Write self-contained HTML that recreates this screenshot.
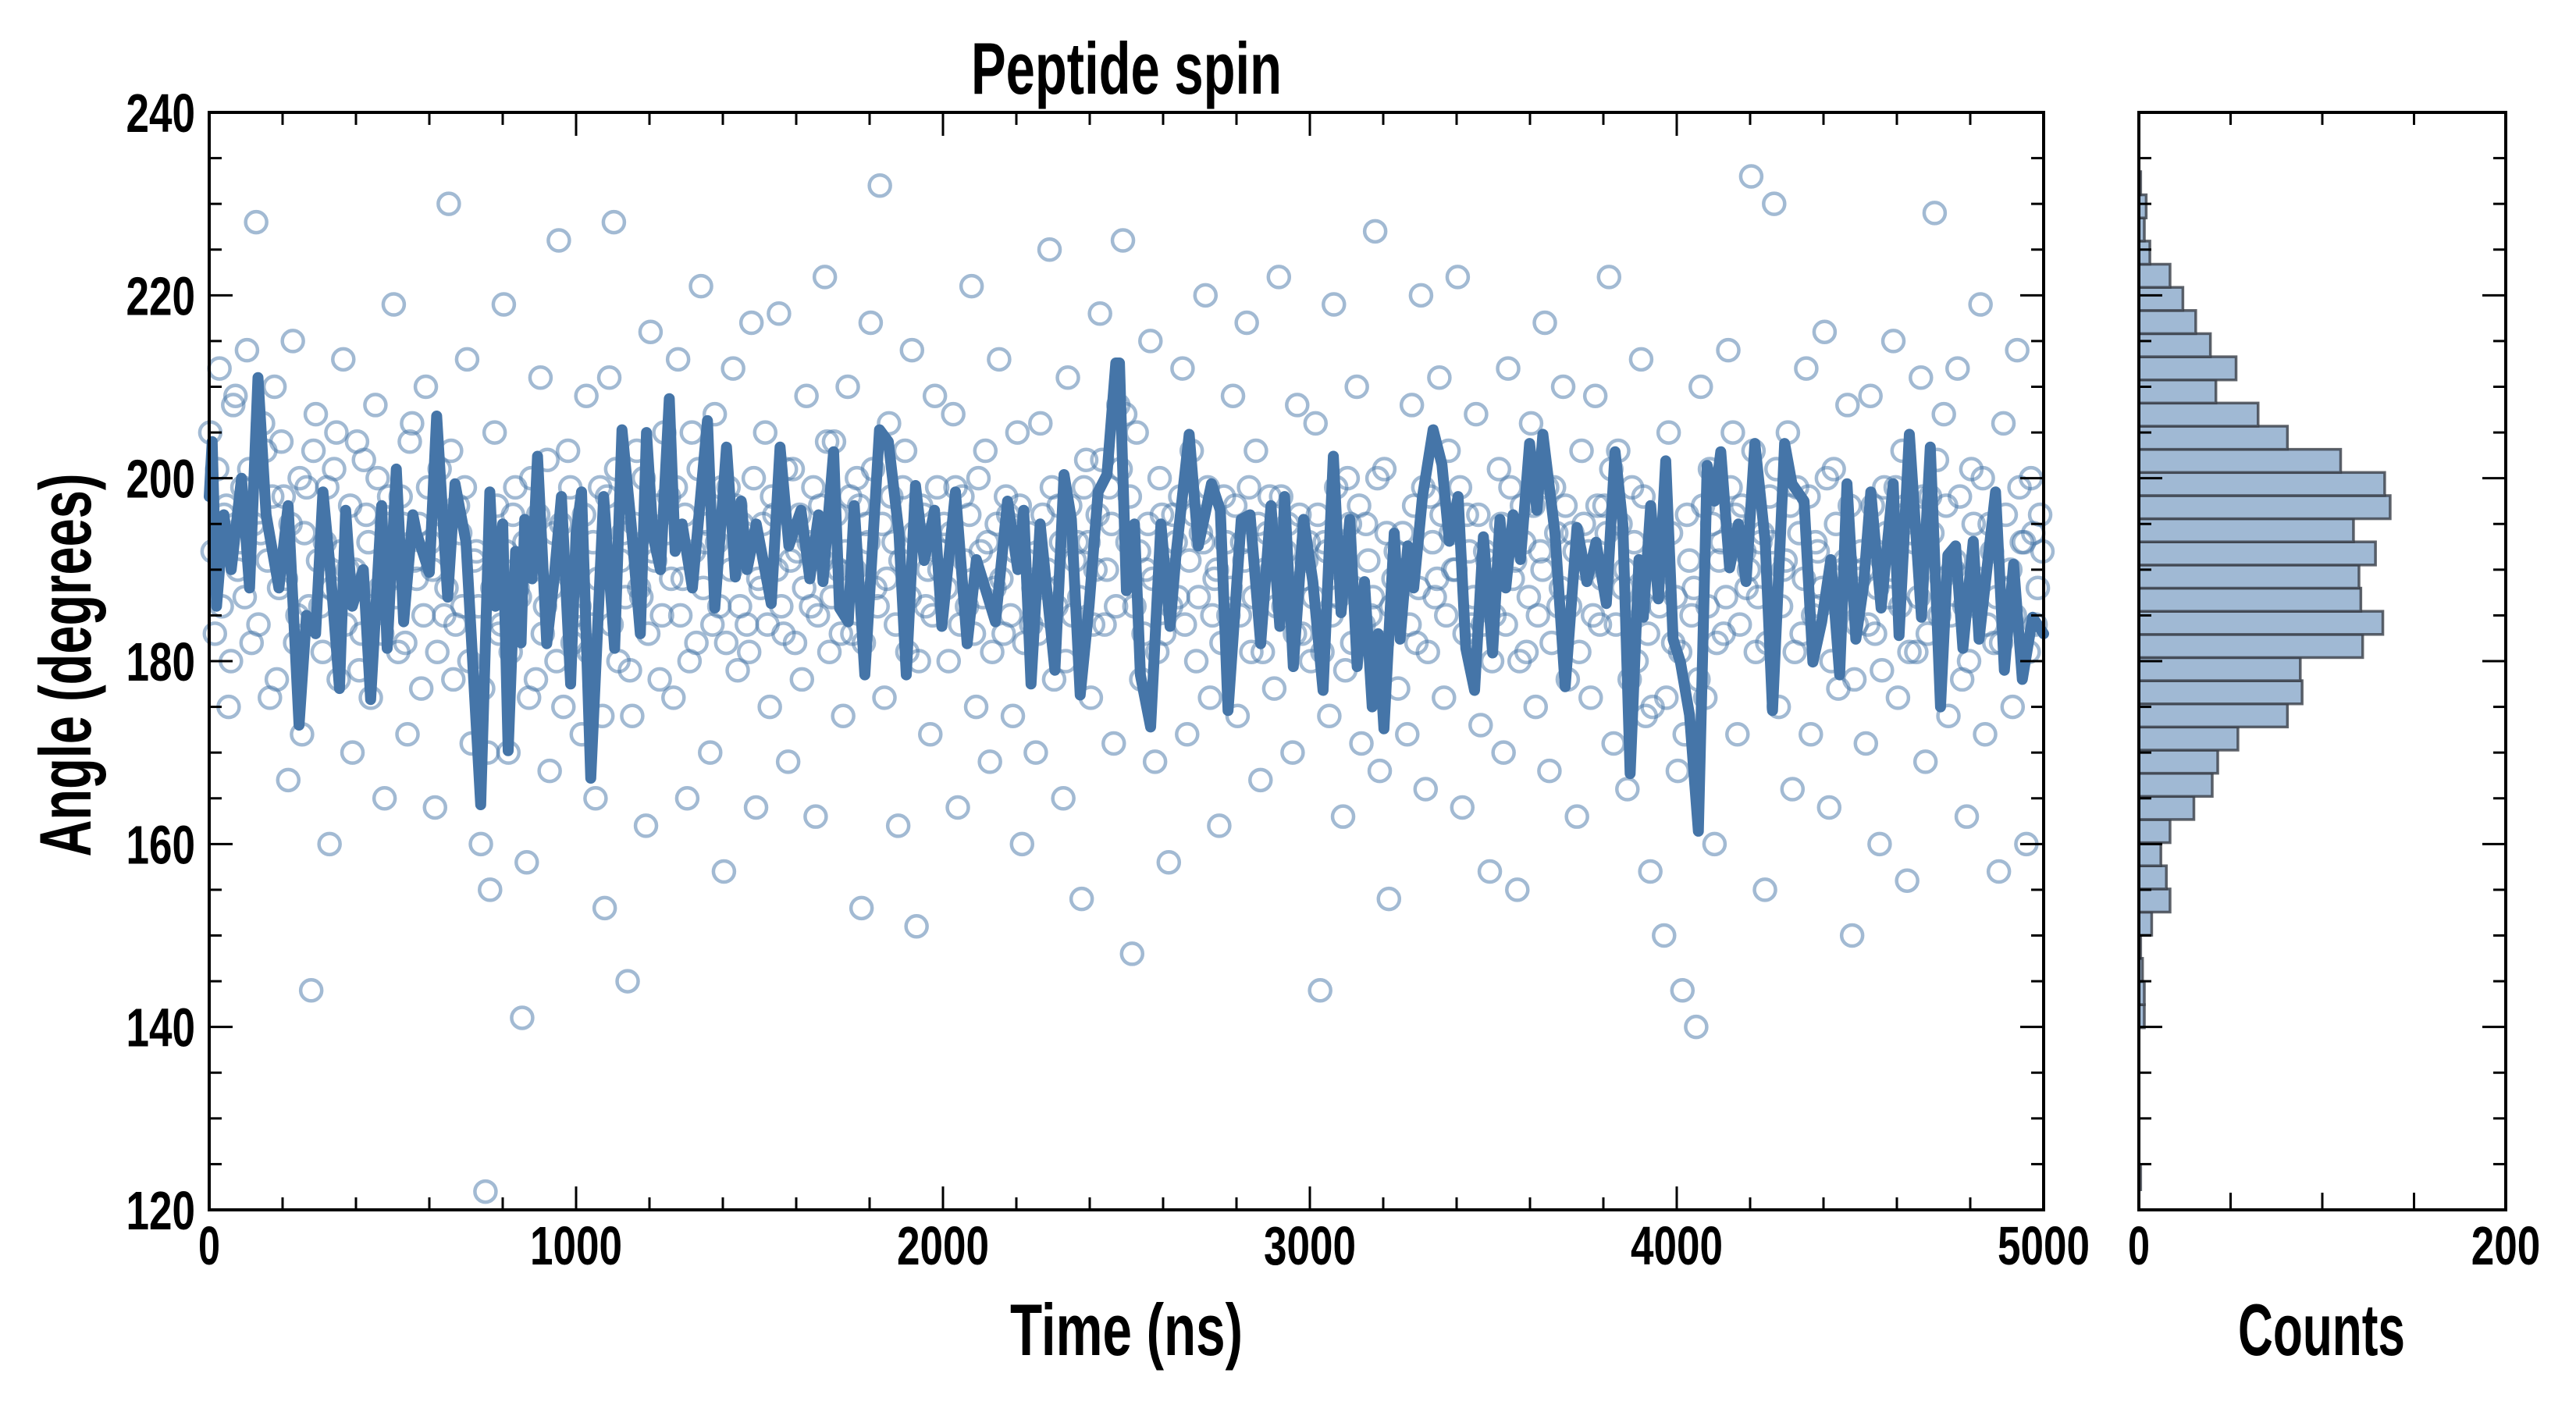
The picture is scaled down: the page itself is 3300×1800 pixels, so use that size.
<!DOCTYPE html>
<html><head><meta charset="utf-8"><title>Peptide spin</title>
<style>
html,body{margin:0;padding:0;background:#fff;}
svg{display:block;}
text{font-family:"Liberation Sans Narrow","Liberation Sans",sans-serif;font-weight:bold;fill:#000;}
</style></head>
<body>
<svg id="chart" width="3300" height="1800" viewBox="0 0 3300 1800" xmlns="http://www.w3.org/2000/svg">
<rect x="0" y="0" width="3300" height="1800" fill="#fff"/>
<g id="main-plot"></g>
<g id="hist-plot"></g>
<text x="1443" y="120" font-size="94" text-anchor="middle" textLength="398" lengthAdjust="spacingAndGlyphs">Peptide spin</text>
<text x="1443" y="1736" font-size="94" text-anchor="middle" textLength="298" lengthAdjust="spacingAndGlyphs">Time (ns)</text>
<text x="2974" y="1736" font-size="94" text-anchor="middle" textLength="214" lengthAdjust="spacingAndGlyphs">Counts</text>
<text x="0" y="0" font-size="94" text-anchor="middle" textLength="491" lengthAdjust="spacingAndGlyphs" transform="translate(116,852) rotate(-90)">Angle (degrees)</text>
</svg>
<script>
// ---- data ----
const scatterValues = [
205,183,212,196,175,208,190,199,214,182,228,194,203,176,210,188,198,167,215,185,
172,199,144,207,186,193,160,201,178,213,190,170,204,183,196,176,208,188,165,198,
219,181,195,172,206,189,177,210,193,164,201,185,230,178,197,186,213,171,192,160,
122,155,205,183,219,170,196,188,141,158,200,178,211,186,168,194,226,175,203,182,
190,172,209,184,165,199,153,211,228,180,194,145,174,203,187,162,216,191,178,205,
198,176,213,189,165,205,182,221,193,170,207,186,157,199,212,179,195,184,217,164,
188,205,175,196,218,183,169,201,192,178,209,186,163,197,222,181,204,190,174,210,
183,200,153,195,217,188,232,176,206,193,162,199,181,214,151,197,186,172,209,190,
195,180,207,164,198,186,221,175,192,203,169,188,213,183,196,174,205,160,191,184,
170,206,188,225,178,197,165,211,185,193,154,202,176,190,218,184,199,171,208,226,
193,148,205,178,190,215,169,200,183,158,196,187,212,172,203,180,194,220,176,189,
162,198,185,209,174,193,217,181,203,167,190,198,177,222,186,195,170,208,183,191,
180,206,144,193,174,219,187,163,200,182,210,171,195,185,227,168,201,154,189,177,
194,172,208,182,220,166,198,187,211,176,203,190,222,164,196,184,207,173,192,157,
185,201,170,212,189,155,197,181,206,175,192,217,168,199,186,210,178,194,163,203,
190,176,209,184,197,222,171,203,188,166,199,180,213,174,157,193,186,150,205,182,
168,144,196,185,140,210,176,201,160,191,183,214,205,172,197,188,233,181,193,155,
198,230,175,190,205,166,199,183,212,172,193,186,216,164,201,177,190,208,150,184,
192,171,209,183,160,199,187,215,176,203,156,194,181,211,169,198,229,185,207,174,
190,212,178,163,201,186,219,172,195,182,157,206,188,175,214,193,160,200,184,196];
const scatterValues2 = [
192,201,186,197,180,209,193,187,201,195,184,206,191,198,178,204,189,195,182,200,
194,186,203,191,181,199,188,205,192,184,197,190,179,202,193,186,200,183,195,189,
187,198,182,204,191,195,185,199,190,181,196,188,203,184,194,199,180,191,186,177,
170,188,197,184,192,181,199,187,193,176,190,196,183,202,188,180,195,190,199,185,
186,196,181,193,189,174,198,184,201,191,187,179,195,188,200,183,192,197,185,194,
189,199,185,196,180,192,201,188,195,184,193,199,182,190,197,186,194,181,200,189,
195,184,198,190,186,201,191,182,196,188,193,199,185,191,204,187,196,183,192,198,
190,197,182,193,201,186,195,189,198,184,191,203,187,194,180,196,190,185,199,192,
188,194,199,184,191,196,183,200,187,193,181,195,189,198,185,192,197,182,194,188,
183,196,190,199,186,193,180,197,191,187,199,193,184,196,202,190,195,186,201,207,
198,186,192,183,195,189,181,196,190,186,193,198,184,191,196,187,193,199,185,190,
182,193,188,197,185,191,199,187,195,181,194,190,186,198,192,188,183,196,189,193,
187,196,181,192,185,199,190,179,195,188,197,184,191,187,200,182,194,186,192,189,
190,184,197,188,199,181,193,189,196,185,194,190,199,183,192,187,196,184,191,180,
189,195,184,199,191,180,193,187,197,185,190,199,182,194,188,197,186,192,181,195,
192,185,197,189,194,201,184,195,190,178,193,186,198,183,175,188,192,176,194,187,
181,172,191,188,178,197,186,195,182,193,187,199,196,184,192,190,203,187,194,182,
193,201,186,191,197,181,194,189,198,185,192,188,200,180,195,186,191,197,178,189,
190,184,197,188,179,194,190,199,186,196,181,193,187,198,183,194,202,189,197,185,
191,198,186,180,195,189,200,184,192,187,182,196,190,185,199,193,181,194,188,192];
const scatterStep = 12.5;

const lineTimes = [0,8,20,40,60,88,110,133,155,190,215,245,265,290,310,330,355,372,390,420,440,470,485,510,530,555,565,600,620,650,670,700,740,765,780,800,815,835,850,860,880,895,920,940,960,985,1000,1015,1040,1075,1105,1125,1150,1175,1192,1210,1230,1254,1270,1289,1317,1358,1378,1410,1434,1450,1466,1491,1532,1556,1580,1613,1637,1661,1673,1702,1718,1742,1758,1787,1827,1851,1880,1900,1925,1949,1977,1997,2034,2066,2091,2115,2143,2176,2204,2220,2240,2265,2305,2330,2350,2374,2398,2423,2447,2471,2481,2500,2522,2538,2566,2594,2619,2635,2671,2696,2732,2756,2777,2813,2837,2866,2894,2918,2931,2955,2983,3008,3036,3064,3085,3109,3129,3149,3170,3186,3202,3230,3246,3267,3283,3307,3336,3360,3380,3404,3425,3449,3473,3498,3518,3534,3554,3574,3599,3619,3635,3668,3696,3728,3755,3780,3808,3832,3853,3873,3897,3909,3929,3950,3970,3990,4010,4035,4059,4083,4103,4120,4144,4168,4189,4213,4241,4261,4294,4314,4347,4371,4395,4420,4444,4464,4488,4509,4529,4557,4590,4606,4634,4667,4691,4719,4739,4760,4780,4808,4824,4869,4893,4918,4942,4970,5000];
const lineValues = [198,204,186,196,190,200,188,211,196,188,197,173,185,183,198.5,190,177,196.5,186,190,175.8,197,181.4,201,184.3,196,194,189.7,206.8,187,199.4,193,164.3,198.5,186,195,170.2,192,182,195.5,189,202.4,181.9,189,198,177.5,194,198.5,167.2,198,181.4,205.3,195,183,205,193.6,190,208.7,192,195,188,206.3,185.8,203.4,189.2,197.5,190,195,186.3,203.4,192.6,196.5,189,196,188.7,202.9,185.8,184.3,197,178.5,205.3,204,194,178.5,199.2,191,196.5,183.8,198.5,181.9,191.1,188,184.3,197.5,190,196.5,177.5,195,179,200.4,195.5,176.3,186,198.5,200.4,212.6,212.6,187.7,195,178.5,172.8,195,183.8,191.6,204.8,192.6,199.4,196.5,174.6,195.5,196,181.9,197,183.8,198,179.4,195.5,188.7,176.8,202.4,185.3,195.5,179.4,188.7,175,183,172.6,194,182.4,192.6,188,198,205.3,201.5,193.1,198,181.4,176.8,193.6,180.9,195.5,188,196,191.1,203.8,196.5,204.8,194,177.2,194.6,188.7,193,186.3,202.9,195,167.7,191.1,184.8,197,186.8,201.9,182.4,179.9,174.1,161.4,201.4,197.5,202.9,190.2,195,188.7,203.8,193.1,174.6,203.8,199.4,197.5,179.9,184.3,191.1,178.5,199.4,182.4,188.2,198.5,185.8,199.4,182.8,204.8,184.8,203.4,175,191.6,192.6,181.4,193.1,182.4,198.5,179,190.6,178,184.8,183];

const histBinStart = 122.2;
const histBinWidth = 2.53;
const histCounts = [1,0,0,0,0,0,0,3,3,2,1,7,17,15,12,17,30,40,43,54,81,89,88,122,133,121,120,129,117,137,134,110,81,65,42,53,39,31,24,17,6,3,4,1];

const xTicks = [0,1000,2000,3000,4000,5000];
const yTicks = [120,140,160,180,200,220,240];
const histTicks = [0,200];

// ---- layout ----
const NS = "http://www.w3.org/2000/svg";
const M = {l:268, r:2618, t:144, b:1550};
const H = {l:2740, r:3210};
const xMin=0, xMax=5000, yMin=120, yMax=240, cMax=200;
function xs(v){return M.l + (v-xMin)/(xMax-xMin)*(M.r-M.l);}
function ys(v){return M.b - (v-yMin)/(yMax-yMin)*(M.b-M.t);}
function hs(v){return H.l + v/cMax*(H.r-H.l);}
function mk(tag, attrs, parent){const e=document.createElementNS(NS,tag);for(const k in attrs)e.setAttribute(k,attrs[k]);parent.appendChild(e);return e;}
function labelLen(s){return s.length===1?28:s.length*29.5;}

const main = document.getElementById('main-plot');
const hist = document.getElementById('hist-plot');

// scatter
const sg = mk('g',{},main);


function drawScatter(arr, off){
  arr.forEach((v,i)=>{
    const c = mk('circle',{cx:xs(i*scatterStep+off),cy:ys(v),r:13.5,fill:'none',stroke:'#4575a8','stroke-opacity':0.5,'stroke-width':4.5},sg);
    
    
  });
}
drawScatter(scatterValues, 3);
drawScatter(scatterValues2, 9.25);

// line
let d='';
lineTimes.forEach((t,i)=>{d+=(i?'L':'M')+xs(t).toFixed(1)+' '+ys(lineValues[i]).toFixed(1);});
const ln = mk('path',{d:d,fill:'none',stroke:'#4575a8','stroke-width':14,'stroke-linejoin':'round','stroke-linecap':'round'},main);



// main frame & ticks
const mf = mk('rect',{x:M.l,y:M.t,width:M.r-M.l,height:M.b-M.t,fill:'none',stroke:'#000','stroke-width':4},main);


function tick(g,x1,y1,x2,y2){mk('line',{x1:x1,y1:y1,x2:x2,y2:y2,stroke:'#000','stroke-width':3},g);}
const mt = mk('g',{},main);


for(let v=xMin; v<=xMax; v+=200){const L=(v%1000===0)?30:16;const x=xs(v);tick(mt,x,M.b,x,M.b-L);tick(mt,x,M.t,x,M.t+L);}
for(let v=yMin; v<=yMax; v+=5){const L=(v%20===0)?30:16;const y=ys(v);tick(mt,M.l,y,M.l+L,y);tick(mt,M.r,y,M.r-L,y);}
xTicks.forEach(v=>{
  const s=String(v);
  const t=mk('text',{x:xs(v),y:1620,'font-size':70,'text-anchor':'middle',textLength:labelLen(s),lengthAdjust:'spacingAndGlyphs'},main);t.textContent=s;
  
  
});
yTicks.forEach(v=>{
  const s=String(v);
  const t=mk('text',{x:250,y:ys(v)+25,'font-size':70,'text-anchor':'end',textLength:labelLen(s),lengthAdjust:'spacingAndGlyphs'},main);t.textContent=s;
  
  
});

// histogram
const hb = mk('g',{},hist);


histCounts.forEach((c,i)=>{
  if(c<=0) return;
  const lo=histBinStart+i*histBinWidth, hi=lo+histBinWidth;
  const r=mk('rect',{x:H.l,y:ys(hi),width:hs(c)-H.l,height:ys(lo)-ys(hi),fill:'#a0b9d4',stroke:'#3a3f47','stroke-opacity':0.8,'stroke-width':3.5},hb);
  
  
});
const hf = mk('rect',{x:H.l,y:M.t,width:H.r-H.l,height:M.b-M.t,fill:'none',stroke:'#000','stroke-width':4},hist);


const ht = mk('g',{},hist);


for(let v=0; v<=cMax; v+=50){const x=hs(v);tick(ht,x,M.b,x,M.b-22);tick(ht,x,M.t,x,M.t+16);}
for(let v=yMin; v<=yMax; v+=5){const L=(v%20===0)?30:16;const y=ys(v);tick(ht,H.l,y,H.l+L,y);tick(ht,H.r,y,H.r-L,y);}
histTicks.forEach(v=>{
  const s=String(v);
  const t=mk('text',{x:hs(v),y:1620,'font-size':70,'text-anchor':'middle',textLength:labelLen(s),lengthAdjust:'spacingAndGlyphs'},hist);t.textContent=s;
  
  
});
</script>
</body></html>
